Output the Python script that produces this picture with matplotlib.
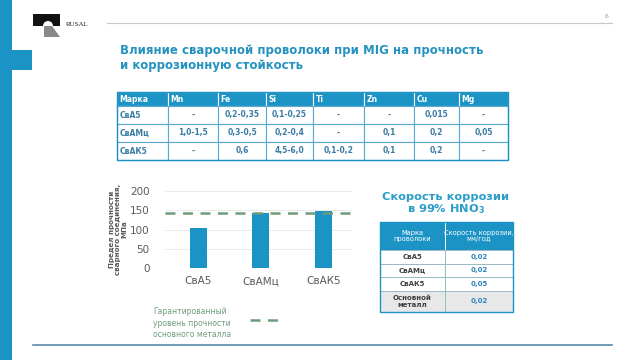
import matplotlib.pyplot as plt
from matplotlib.patches import Rectangle, Polygon, Circle
from matplotlib.lines import Line2D

plt.rcParams['font.family'] = ['DejaVu Sans']

# chart data
wires = ['СвА5', 'СвАМц', 'СвАК5']
strength = [104, 144, 149]
base_strength = 142
y_ticks = [0, 50, 100, 150, 200]

# composition table
comp_header = ['Марка', 'Mn', 'Fe', 'Si', 'Ti', 'Zn', 'Cu', 'Mg']
comp_rows = [
    ['СвА5', '-', '0,2-0,35', '0,1-0,25', '-', '-', '0,015', '-'],
    ['СвАМц', '1,0-1,5', '0,3-0,5', '0,2-0,4', '-', '0,1', '0,2', '0,05'],
    ['СвАК5', '-', '0,6', '4,5-6,0', '0,1-0,2', '0,1', '0,2', '-'],
]

# corrosion table
corr_header = ['Марка\nпроволоки', 'Скорость коррозии,\nмм/год']
corr_rows = [
    ['СвА5', '0,02'],
    ['СвАМц', '0,02'],
    ['СвАК5', '0,05'],
    ['Основной\nметалл', '0,02'],
]

blue = '#1b93c4'
W, H = 640, 360

fig = plt.figure(figsize=(6.4, 3.6), dpi=100)
bg = fig.add_axes([0, 0, 1, 1])
bg.set_xlim(0, W)
bg.set_ylim(H, 0)
bg.axis('off')

# slide decoration
bg.add_patch(Rectangle((0, 0), 12, H, color=blue, lw=0))
bg.add_patch(Rectangle((0, 50), 32, 20, color=blue, lw=0))
bg.add_line(Line2D([107, 612], [23, 23], color='#c8c8c8', lw=0.8))
bg.add_line(Line2D([33, 612], [345, 345], color='#5a8aa8', lw=1.2))
bg.text(607, 17, '6', fontsize=4.5, color='#999999', ha='center', va='center')

# logo
bg.add_patch(Rectangle((33, 14), 27, 12, color='#111111', lw=0))
bg.add_patch(Circle((48, 26), 5, color='white', lw=0))
bg.add_patch(Polygon([[44, 26], [52, 26], [60, 37], [44, 37]], closed=True,
                     color='#8a8a8a', lw=0))
bg.text(66, 24, 'RUSAL', fontsize=5, family='Liberation Serif',
        color='#222222', va='center')

# title
bg.text(120, 58, 'Влияние сварочной проволоки при MIG на прочность\n'
        'и коррозионную стойкость', fontsize=8.5, fontweight='bold',
        color='#2592c0', va='center', linespacing=1.15)

# composition table
t1 = bg.table(cellText=comp_rows, colLabels=comp_header,
              colWidths=[51, 50, 48, 47, 51, 50, 45, 49],
              bbox=[117 / W, 1 - 160 / H, 391 / W, 68 / H])
t1.auto_set_font_size(False)
for (r, c), cell in t1.get_celld().items():
    cell.set_height(14 if r == 0 else 18)
    cell.set_linewidth(0.8)
    txt = cell.get_text()
    txt.set_fontsize(5.5)
    txt.set_fontweight('bold')
    if r == 0:
        cell.set_facecolor(blue)
        cell.set_edgecolor('white')
        txt.set_color('white')
        cell.set_text_props(ha='left')
        cell.PAD = 0.05
    else:
        cell.set_facecolor('white')
        cell.set_edgecolor('#5aa8cf')
        txt.set_color('#3a7ca5')
        if c == 0:
            cell.set_text_props(ha='left')
            cell.PAD = 0.05
        else:
            cell.set_text_props(ha='center')
bg.add_patch(Rectangle((117, 92), 391, 68, fill=False, ec=blue, lw=1.0))

# bar chart
ax = fig.add_axes([165 / W, 1 - 268 / H, 187 / W, 77 / H])
x = range(len(wires))
ax.bar(x, strength, width=0.27, color=blue, zorder=2)
line = ax.axhline(base_strength, color='#6e9b7c', lw=1.8, zorder=3, clip_on=False)
line.set_dashes((4, 3))
ax.set_xlim(-0.53, 2.46)
ax.set_ylim(0, 200)
ax.set_yticks(y_ticks)
ax.set_xticks(list(x))
ax.set_xticklabels(wires)
ax.grid(axis='y', color='#e6e6e6', lw=0.6, zorder=0)
for s in ax.spines.values():
    s.set_visible(False)
ax.tick_params(axis='both', length=0, labelsize=7.5, labelcolor='#595959')
ax.tick_params(axis='y', pad=11)
ax.tick_params(axis='x', pad=6)
ax.patch.set_alpha(0)

bg.text(118, 229, 'Предел прочности\nсварного соединения,\nМПа', rotation=90,
        fontsize=5.1, fontweight='bold', color='#595959', ha='center',
        va='center', linespacing=1.05)

# legend
bg.text(153, 323, 'Гарантированный\nуровень прочности\nосновного металла',
        fontsize=5.5, color='#6e9b7c', va='center', linespacing=1.35)
leg = Line2D([250, 283], [320, 320], color='#6e9b7c', lw=1.8)
leg.set_dashes((4, 3))
bg.add_line(leg)

# corrosion block
bg.text(446, 204, 'Скорость коррозии\nв 99% HNO$_\\mathbf{3}$', fontsize=8.2,
        fontweight='bold', color='#2a9dc8', ha='center', va='center',
        linespacing=1.1)

t2 = bg.table(cellText=corr_rows, colLabels=corr_header, colWidths=[65, 68],
              bbox=[380 / W, 1 - 312 / H, 133 / W, 90 / H])
t2.auto_set_font_size(False)
heights = [28, 13.5, 13.5, 13.5, 21.5]
for (r, c), cell in t2.get_celld().items():
    cell.set_height(heights[r])
    cell.set_linewidth(0.7)
    txt = cell.get_text()
    txt.set_fontsize(4.8 if r == 0 else 5)
    cell.set_text_props(ha='center', linespacing=1.2)
    if r == 0:
        cell.set_facecolor(blue)
        cell.set_edgecolor('white')
        txt.set_color('white')
    else:
        cell.set_facecolor('#e8e8e8' if r == 4 else 'white')
        cell.set_edgecolor('#9ab8c8')
        txt.set_fontweight('bold')
        txt.set_color('#404040' if c == 0 else '#2a86b8')
bg.add_patch(Rectangle((380, 222), 133, 90, fill=False, ec=blue, lw=1.0))

fig.savefig('out.png', dpi=100)
